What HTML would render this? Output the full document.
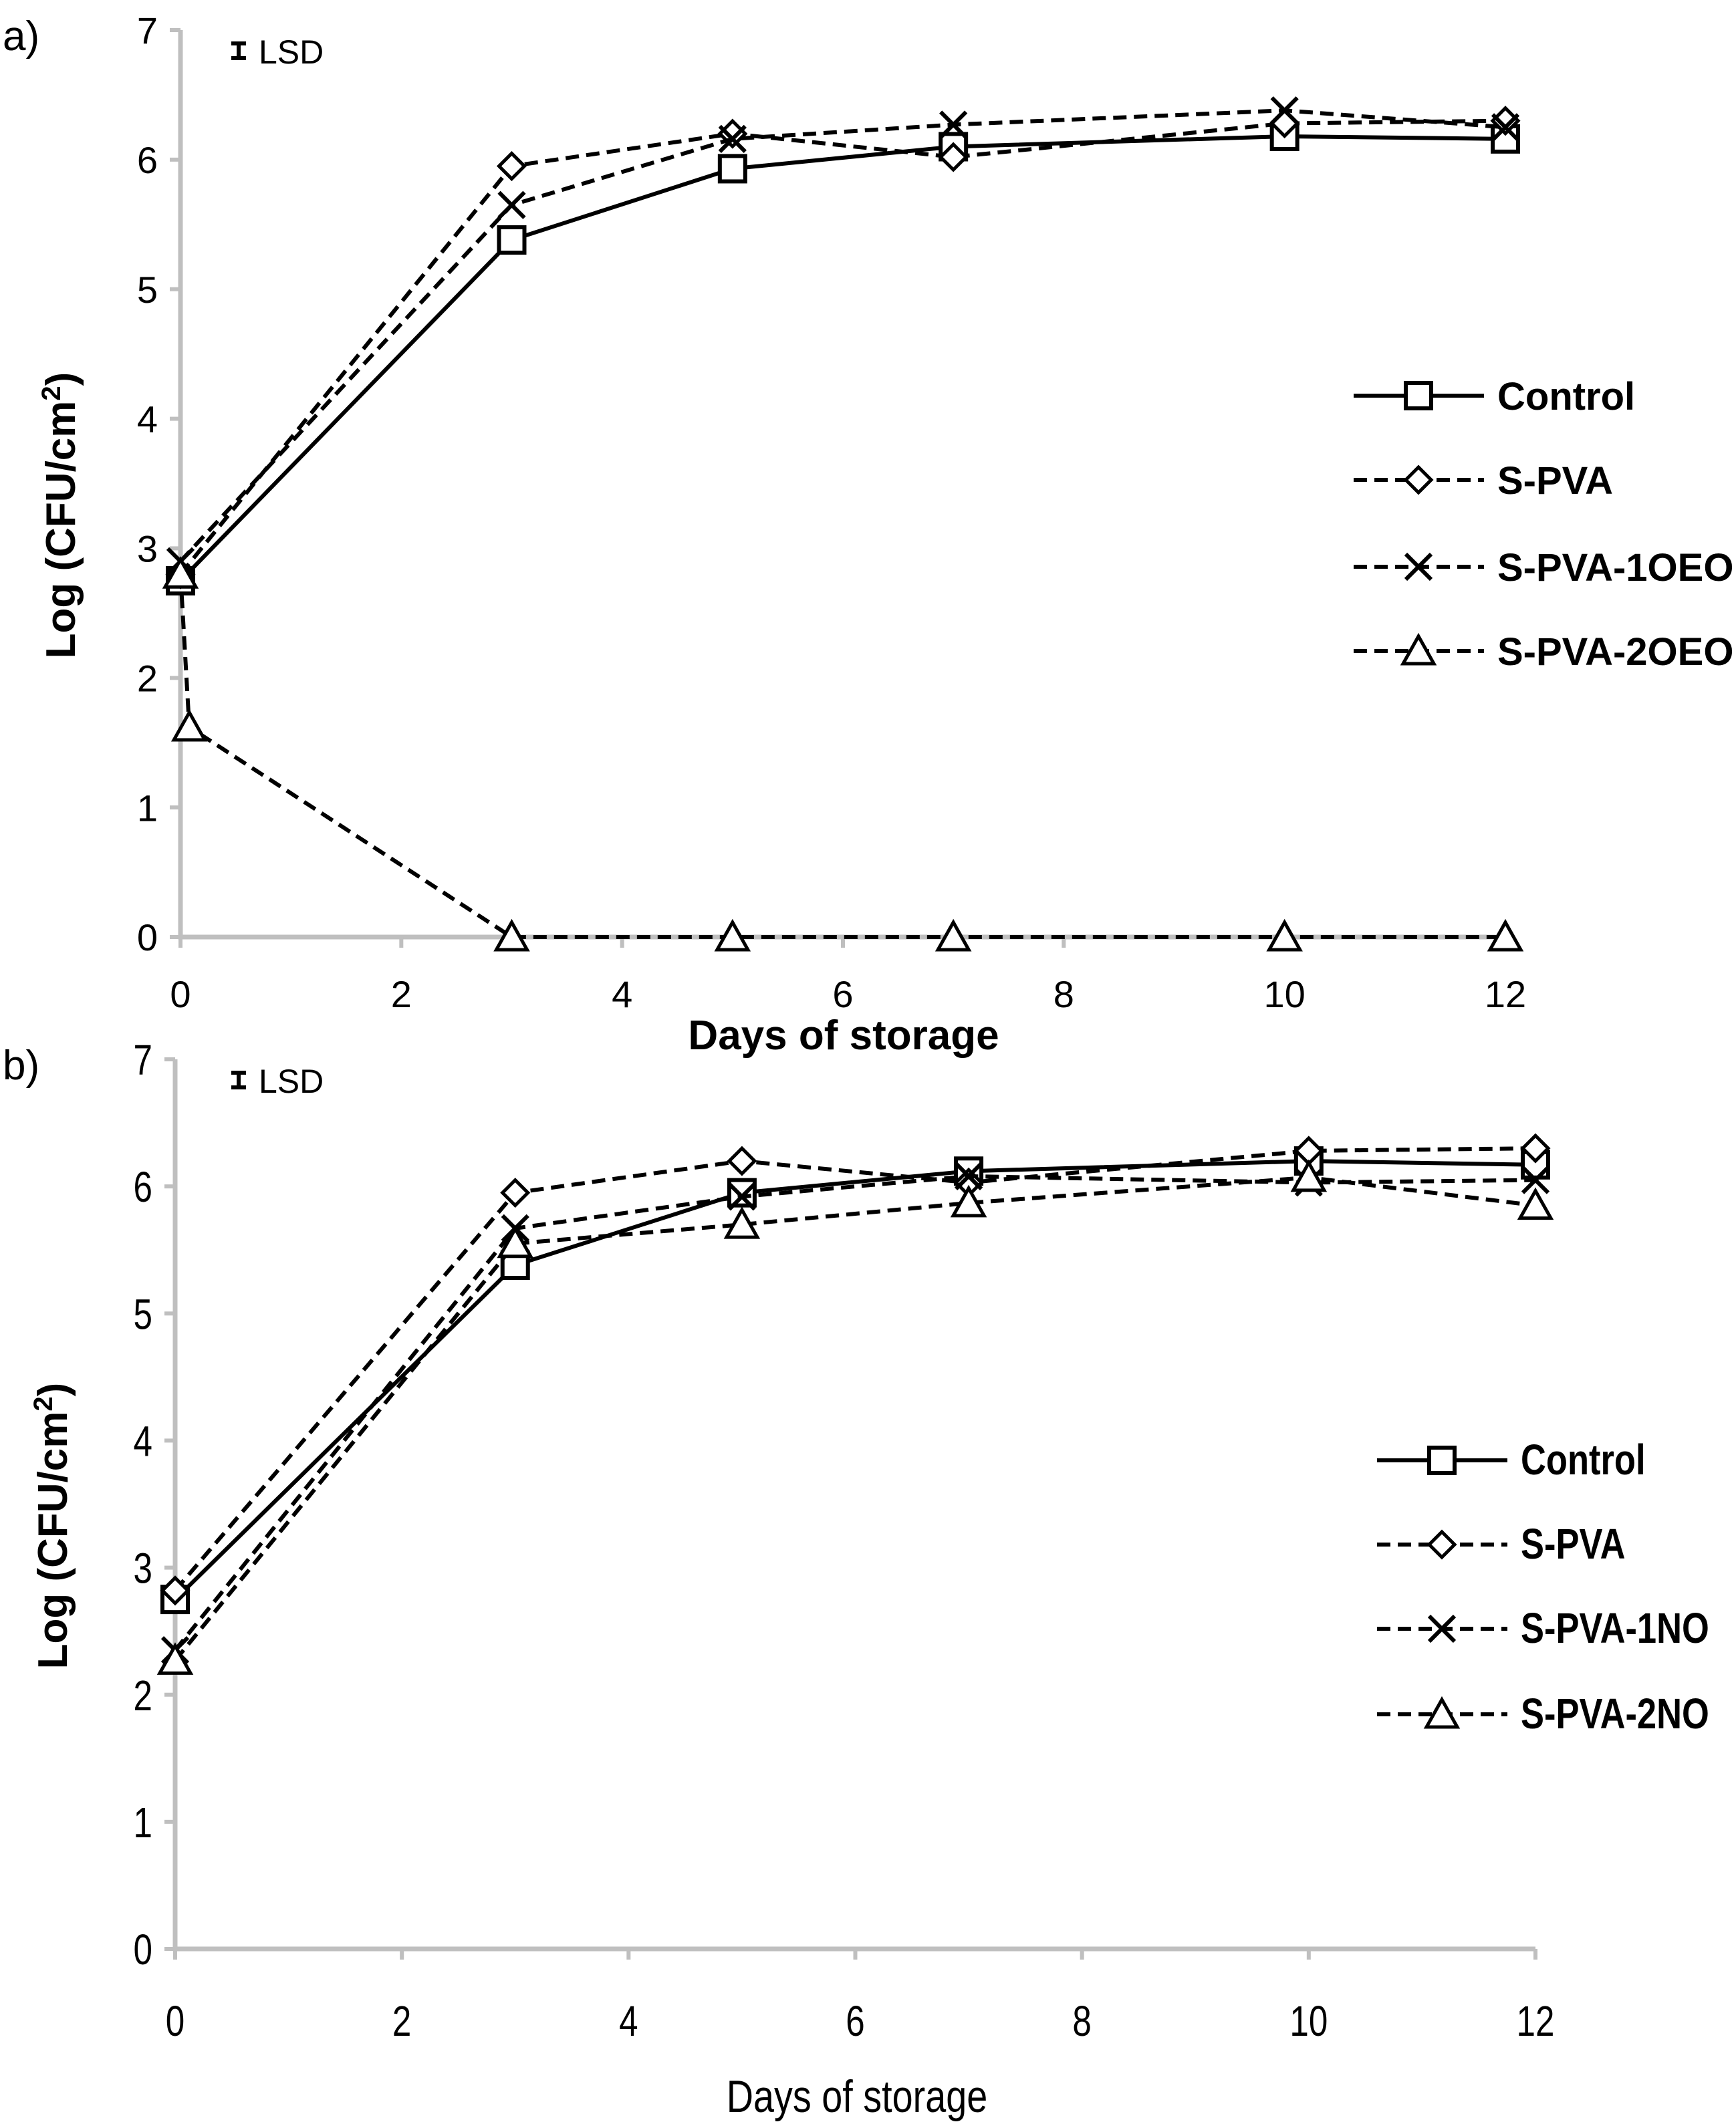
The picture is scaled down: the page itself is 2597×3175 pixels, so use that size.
<!DOCTYPE html>
<html><head><meta charset="utf-8"><style>
html,body{margin:0;padding:0;background:#fff}
svg{display:block}
text{font-family:"Liberation Sans",sans-serif;fill:#000}
</style></head><body>
<svg id="s" width="2597" height="3175" viewBox="0 0 2597 3175" xmlns="http://www.w3.org/2000/svg"></svg>
<script>
const days = [0,3,5,7,10,12];
const aControl = [2.75,5.38,5.93,6.10,6.18,6.16];
const aSPVA = [2.80,5.95,6.20,6.02,6.28,6.30];
const a1OEO = [2.90,5.65,6.16,6.27,6.38,6.25];
const a2OEOdays = [0,0.08,3,5,7,10,12];
const a2OEO = [2.80,1.62,0,0,0,0,0];
const bControl = [2.75,5.38,5.95,6.12,6.20,6.17];
const bSPVA = [2.82,5.95,6.20,6.03,6.28,6.30];
const b1NO = [2.35,5.67,5.92,6.08,6.03,6.05];
const b2NO = [2.27,5.55,5.70,5.87,6.07,5.85];
const xTicks = [0,2,4,6,8,10,12];
const yTicks = [0,1,2,3,4,5,6,7];
const NS="http://www.w3.org/2000/svg";
const svg=document.getElementById('s');
function el(t,a,p){const e=document.createElementNS(NS,t);for(const k in a)e.setAttribute(k,a[k]);(p||svg).appendChild(e);return e;}
function marker(g,type,x,y){
  const r=19;let e;
  if(type==='square')e=el('rect',{x:x-r,y:y-r,width:2*r,height:2*r,fill:'#fff',stroke:'#000','stroke-width':6},g);
  else if(type==='diamond')e=el('polygon',{points:`${x},${y-r} ${x+r},${y} ${x},${y+r} ${x-r},${y}`,fill:'#fff',stroke:'#000','stroke-width':5},g);
  else if(type==='x'){e=el('path',{d:`M${x-r} ${y-r}L${x+r} ${y+r}M${x+r} ${y-r}L${x-r} ${y+r}`,stroke:'#000','stroke-width':6,fill:'none'},g);}
  else e=el('polygon',{points:`${x},${y-r-3} ${x+r+4},${y+r} ${x-r-4},${y+r}`,fill:'#fff',stroke:'#000','stroke-width':5},g);
  
  
}
function chart(cfg){
  const g=el('g',{});
  
  
  const X=v=>cfg.x0+(cfg.x1-cfg.x0)*v/12, Y=v=>cfg.y0-(cfg.y0-cfg.y7)*v/7;
  const ax=el('path',{d:`M${X(0)} ${Y(7)}V${Y(0)}H${X(12)}`,stroke:'#bfbfbf','stroke-width':7,fill:'none'},g);
  
  yTicks.forEach(v=>{
    el('line',{x1:X(0)-16,x2:X(0),y1:Y(v),y2:Y(v),stroke:'#bfbfbf','stroke-width':6},g);
    const t=el('text',{x:X(0)-34,y:Y(v)+cfg.tfs*0.36,'text-anchor':'end','font-size':cfg.tfs,transform:cfg.cond?`translate(${(X(0)-34)*0.2} 0) scale(0.8 1)`:''},g);
    t.textContent=v;
  });
  xTicks.forEach(v=>{
    el('line',{x1:X(v),x2:X(v),y1:Y(0),y2:Y(0)+16,stroke:'#bfbfbf','stroke-width':6},g);
    const t=el('text',{x:X(v),y:Y(0)+cfg.xlOff,'text-anchor':'middle','font-size':cfg.tfs,transform:cfg.cond?`translate(${X(v)*0.2} 0) scale(0.8 1)`:''},g);
    t.textContent=v;
  });
  cfg.series.forEach((s,i)=>{
    const pts=s.xs.map((d,j)=>X(d)+','+Y(s.ys[j])).join(' ');
    const pl=el('polyline',{points:pts,fill:'none',stroke:'#000','stroke-width':6,'stroke-dasharray':s.dash?'20 11':'none'},g);
    
    s.xs.forEach((d,j)=>marker(g,s.m,X(d),Y(s.ys[j])));
    const ly=cfg.legY[i];
    const ll=el('line',{x1:cfg.legX,x2:cfg.legX+195,y1:ly,y2:ly,stroke:'#000','stroke-width':6,'stroke-dasharray':s.dash?'20 11':'none'},g);
    
    marker(g,s.m,cfg.legX+97,ly);
    const lt=el('text',{x:cfg.legX+215,y:ly+21,'font-size':cfg.lfs,'font-weight':'bold',transform:cfg.cond?`translate(${(cfg.legX+215)*0.18} 0) scale(0.82 1)`:''},g);
    lt.textContent=s.label;
  });
  const yt=el('text',{x:0,y:0,'font-size':62,'font-weight':'bold','text-anchor':'middle',transform:`translate(${cfg.ytX},${cfg.ytY}) rotate(-90)`},g);
  yt.innerHTML='Log (CFU/cm<tspan dy="-22" font-size="40">2</tspan><tspan dy="22">)</tspan>';
  
  const xt=el('text',{x:cfg.xtX,y:cfg.xtY,'font-size':cfg.xtfs,'font-weight':cfg.xtw,'text-anchor':'middle',transform:cfg.cond?`translate(${cfg.xtX*0.18} 0) scale(0.82 1)`:''},g);
  xt.textContent='Days of storage';
  const pl=el('text',{x:4,y:cfg.y7+30,'font-size':62},g);
  pl.textContent=cfg.panel;
  const lsd=el('path',{d:`M${cfg.lsdX-11} ${cfg.y7+20}h22M${cfg.lsdX-11} ${cfg.y7+42}h22M${cfg.lsdX} ${cfg.y7+20}v22`,stroke:'#000','stroke-width':6,fill:'none'},g);
  
  const lt=el('text',{x:cfg.lsdX+30,y:cfg.y7+50,'font-size':50},g);
  lt.textContent='LSD';
}
chart({name:'chart-a',panel:'a)',x0:270,x1:2252,y7:45,y0:1402,tfs:56,cond:false,xlOff:105,legX:2025,legY:[592,718,848,974],lfs:58,
  ytX:112,ytY:771,xtX:1262,xtY:1570,xtfs:62,xtw:'bold',lsdX:357,
  series:[{label:'Control',xs:days,ys:aControl,m:'square',dash:false},
          {label:'S-PVA',xs:days,ys:aSPVA,m:'diamond',dash:true},
          {label:'S-PVA-1OEO',xs:days,ys:a1OEO,m:'x',dash:true},
          {label:'S-PVA-2OEO',xs:a2OEOdays,ys:a2OEO,m:'triangle',dash:true}]});
chart({name:'chart-b',panel:'b)',x0:262,x1:2297,y7:1585,y0:2916,tfs:64,cond:true,xlOff:130,legX:2060,legY:[2185,2311,2437,2565],lfs:64,
  ytX:100,ytY:2283,xtX:1282,xtY:3160,xtfs:68,xtw:'normal',lsdX:357,
  series:[{label:'Control',xs:days,ys:bControl,m:'square',dash:false},
          {label:'S-PVA',xs:days,ys:bSPVA,m:'diamond',dash:true},
          {label:'S-PVA-1NO',xs:days,ys:b1NO,m:'x',dash:true},
          {label:'S-PVA-2NO',xs:days,ys:b2NO,m:'triangle',dash:true}]});
</script>
</body></html>
